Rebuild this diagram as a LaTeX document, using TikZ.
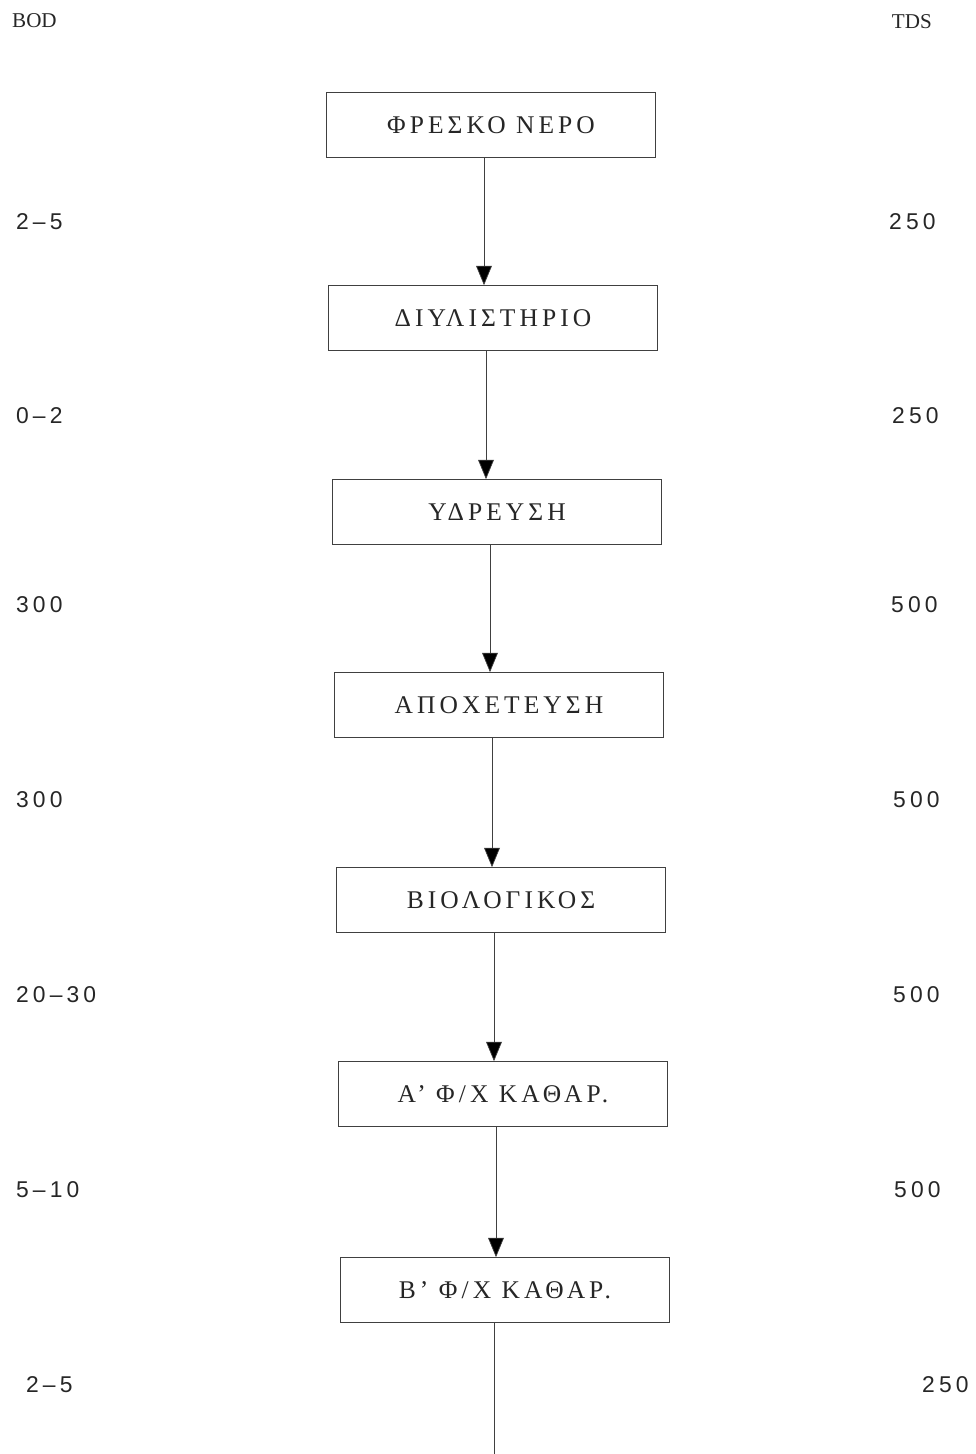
\documentclass[tikz,border=0pt]{standalone}
\usepackage{fontspec}
\setmainfont{Liberation Serif}
\newfontfamily\numfont[LetterSpace=18]{Liberation Sans}
\newfontfamily\boxfont[LetterSpace=16]{Liberation Serif}
\usetikzlibrary{arrows.meta}
\tikzset{
  stage/.style={draw=black!75, thin, minimum width=6.58cm, minimum height=1.3cm,
    text=black!85, font=\boxfont\fontsize{14.5}{16}\selectfont},
  flow/.style={draw=black!75, thin, -{Triangle[width=9pt,length=11pt,fill=black]}},
  value/.style={anchor=west, text=black!85, font=\numfont\fontsize{13}{15}\selectfont},
  head/.style={text=black!85, font=\fontsize{12}{14}\selectfont}
}
\begin{document}
\begin{tikzpicture}[x=0.02cm,y=-0.02cm]
        \useasboundingbox (0,0) rectangle (975,1454);

        % Draw headers
        \node[head, anchor=west] (bod) at (6,21) {BOD};
        \node[head, anchor=east] (tds) at (938,22) {TDS};

        % Draw stages
        \node[stage] (s1) at (491,125) {ΦΡΕΣΚΟ ΝΕΡΟ};
        \node[stage] (s2) at (493,318) {ΔΙΥΛΙΣΤΗΡΙΟ};
        \node[stage] (s3) at (497,512) {ΥΔΡΕΥΣΗ};
        \node[stage] (s4) at (499,705) {ΑΠΟΧΕΤΕΥΣΗ};
        \node[stage] (s5) at (501,900) {ΒΙΟΛΟΓΙΚΟΣ};
        \node[stage] (s6) at (503,1094) {Α’ Φ/Χ ΚΑΘΑΡ.};
        \node[stage] (s7) at (505,1290) {Β’ Φ/Χ ΚΑΘΑΡ.};

        % Draw flow between stages
        \foreach \a/\b in {s1/s2,s2/s3,s3/s4,s4/s5,s5/s6,s6/s7} {
            \draw[flow] ([xshift=-0.14cm]\a.south) -- ([xshift=-0.14cm]\a.south |- \b.north);
        }
        \coordinate (out) at (494,1454);
        \draw[draw=black!75, thin] (s7.south -| out) -- (out);

        % Values beside each step
        \foreach \lx/\b/\rx/\t/\y [count=\i] in {10/2–5/883/250/222, 10/0–2/886/250/416,
            10/300/885/500/605, 10/300/887/500/800, 10/20–30/887/500/995,
            10/5–10/888/500/1190, 20/2–5/916/250/1385} {
            \node[value] (bod\i) at (\lx,\y) {\b};
            \node[value] (tds\i) at (\rx,\y) {\t};
        }
    \end{tikzpicture}
\end{document}
